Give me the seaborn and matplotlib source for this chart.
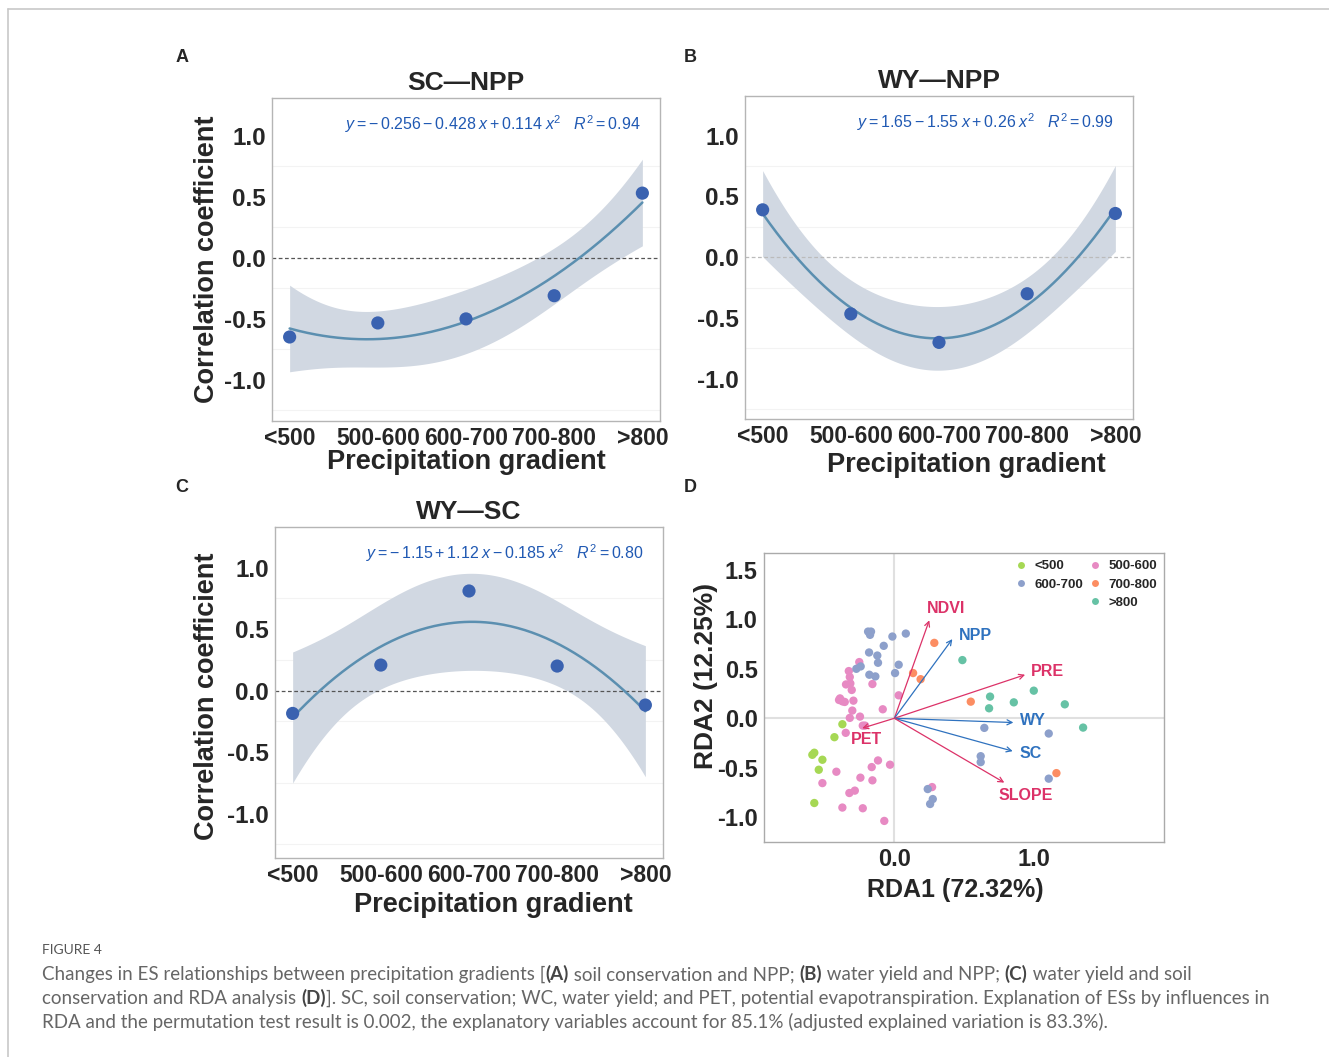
import numpy as np
import pandas as pd
import matplotlib
matplotlib.use('Agg')
import matplotlib.pyplot as plt
import seaborn as sns
from matplotlib.lines import Line2D

# Panels A-C: correlation coefficient per precipitation class
gradients = ['<500', '500-600', '600-700', '700-800', '>800']
sc_npp = [-0.648, -0.533, -0.500, -0.310, 0.530]
wy_npp = [0.390, -0.466, -0.700, -0.300, 0.360]
wy_sc = [-0.185, 0.208, 0.810, 0.200, -0.117]
ci_levels = [0.85, 0.95, 0.85]
titles = ['SC\u2014NPP', 'WY\u2014NPP', 'WY\u2014SC']
equations = [
    r'$y = -\,0.256 - 0.428\;x + 0.114\;x^2$   $R^2 = 0.94$',
    r'$y = 1.65 - 1.55\;x + 0.26\;x^2$   $R^2 = 0.99$',
    r'$y = -\,1.15 + 1.12\;x - 0.185\;x^2$   $R^2 = 0.80$',
]
corr_ticks = [-1.0, -0.5, 0.0, 0.5, 1.0]
corr_ticklabels = ['-1.0', '-0.5', '0.0', '0.5', '1.0']

# Panel D: RDA site scores by precipitation class
lt500_x = [-0.372, -0.429, -0.573, -0.587, -0.515, -0.541, -0.573]
lt500_y = [-0.060, -0.191, -0.348, -0.369, -0.419, -0.520, -0.856]
p500_x = [-0.251, -0.326, -0.319, -0.346, -0.315, -0.305, -0.157, -0.389, -0.372, -0.355,
          -0.396, -0.293, 0.031, -0.301, -0.083, -0.319, -0.246, -0.226, -0.210, -0.348,
          -0.117, -0.031, -0.162, -0.415, -0.243, -0.157, -0.515, -0.322, -0.283, -0.372,
          -0.226, -0.072, 0.270]
p500_y = [0.568, 0.477, 0.417, 0.342, 0.352, 0.286, 0.346, 0.201, 0.171, 0.165,
          0.185, 0.178, 0.232, 0.078, 0.091, 0.004, 0.017, -0.074, -0.074, -0.147,
          -0.426, -0.469, -0.493, -0.540, -0.600, -0.627, -0.655, -0.755, -0.731, -0.902,
          -0.909, -1.037, -0.695]
p600_x = [-0.188, -0.167, -0.174, -0.014, 0.082, -0.076, -0.181, -0.122, -0.117, 0.031,
          0.005, -0.241, -0.272, -0.179, -0.136, 0.644, 1.105, 0.618, 0.618, 1.105,
          0.239, 0.275, 0.256]
p600_y = [0.876, 0.876, 0.843, 0.826, 0.856, 0.732, 0.665, 0.634, 0.561, 0.541,
          0.457, 0.524, 0.500, 0.440, 0.423, -0.097, -0.154, -0.383, -0.443, -0.610,
          -0.715, -0.816, -0.866]
p700_x = [0.286, 0.134, 0.188, 0.547, 1.160]
p700_y = [0.762, 0.457, 0.395, 0.168, -0.554]
gt800_x = [0.487, 0.998, 0.685, 0.855, 0.678, 1.220, 1.351]
gt800_y = [0.588, 0.279, 0.219, 0.161, 0.101, 0.141, -0.094]

# Panel D: explanatory / response variable loadings
var_names = ['NDVI', 'NPP', 'PRE', 'WY', 'SC', 'SLOPE', 'PET']
var_x = [0.250, 0.415, 0.936, 0.852, 0.847, 0.787, -0.230]
var_y = [0.990, 0.800, 0.440, -0.043, -0.332, -0.650, -0.100]
var_kind = ['driver', 'service', 'driver', 'service', 'service', 'driver', 'driver']
label_x = [0.367, 0.580, 1.093, 0.990, 0.976, 0.940, -0.203]
label_y = [1.108, 0.833, 0.473, -0.023, -0.359, -0.778, -0.218]

caption_lines = [
    [('Changes in ES relationships between precipitation gradients [', False), ('(A)', True),
     (' soil conservation and NPP; ', False), ('(B)', True), (' water yield and NPP; ', False),
     ('(C)', True), (' water yield and soil', False)],
    [('conservation and RDA analysis ', False), ('(D)', True),
     ('].  SC, soil conservation; WC, water yield; and PET, potential evapotranspiration. '
      'Explanation of ESs by influences in', False)],
    [('RDA and the permutation test result is 0.002, the explanatory variables account for '
      '85.1% (adjusted explained variation is 83.3%).', False)],
]
caption_lines[1][2] = (caption_lines[1][2][0].replace('].  ', ']. '), False)

sns.set_style('white')
plt.rcParams['font.family'] = ['Liberation Sans', 'DejaVu Sans']
plt.rcParams['mathtext.fontset'] = 'custom'
plt.rcParams['mathtext.rm'] = 'Liberation Sans'
plt.rcParams['mathtext.it'] = 'Liberation Sans:italic'
plt.rcParams['mathtext.bf'] = 'Liberation Sans:bold'


def quad_fit(x, y, level, n=200):
    # quadratic lm fit with a t-based confidence band (5 points -> 2 dof)
    X = np.column_stack([np.ones_like(x), x, x ** 2])
    beta = np.linalg.lstsq(X, y, rcond=None)[0]
    s2 = np.sum((y - X @ beta) ** 2) / (len(x) - 3)
    xs = np.linspace(x.min(), x.max(), n)
    Xs = np.column_stack([np.ones_like(xs), xs, xs ** 2])
    se = np.sqrt(s2 * np.einsum('ij,jk,ik->i', Xs, np.linalg.inv(X.T @ X), Xs))
    t = level * np.sqrt(2 / (1 - level ** 2))
    fit = Xs @ beta
    return xs, fit, fit - t * se, fit + t * se


W, H = 1329, 1057
fig = plt.figure(figsize=(W / 100, H / 100), dpi=100)


def px_axes(l, t, r, b):
    return fig.add_axes([l / W, 1 - b / H, (r - l) / W, (b - t) / H])


ax_a = px_axes(272, 98, 660, 421)
ax_b = px_axes(745, 96, 1133, 419)
ax_c = px_axes(275, 527, 663, 858)
ax_d = px_axes(764, 553, 1164, 842)

bold = dict(fontweight='bold')
x = np.arange(1, 6, dtype=float)
ylims = [(-1.336, 1.309), (-1.33, 1.326), (-1.36, 1.33)]
zero_colors = ['#555555', '#bbbbbb', '#555555']
xlab_pos = [(0.5, -0.127), (0.57, -0.142), (0.564, -0.141)]
ylab_pos = [(-0.1675, 0.5), None, (-0.174, 0.49)]

for i, (ax, vals) in enumerate(zip([ax_a, ax_b, ax_c], [sc_npp, wy_npp, wy_sc])):
    y = np.array(vals)
    xs, fit, lo, hi = quad_fit(x, y, ci_levels[i])
    ax.fill_between(xs, lo, hi, color='#d1d8e2', lw=0, zorder=1)
    ax.axhline(0, color=zero_colors[i], lw=0.9, ls=(0, (3, 2)), zorder=2)
    sns.lineplot(x=xs, y=fit, ax=ax, color='#5b8fb0', lw=1.8, zorder=3)
    sns.scatterplot(x=x, y=y, ax=ax, color='#3a62b0', s=90, edgecolor='none', zorder=4)
    ax.set_xlim(0.8, 5.2)
    ax.set_ylim(*ylims[i])
    ax.set_xticks(x, gradients, fontsize=16.5, **bold)
    ax.set_yticks(corr_ticks, corr_ticklabels, fontsize=17.5, **bold)
    ax.set_yticks([-1.25, -0.75, -0.25, 0.25, 0.75], minor=True)
    ax.grid(which='minor', axis='y', color='#f3f3f3', lw=0.8)
    ax.grid(which='major', visible=False)
    ax.tick_params(which='major', length=2.5, width=0.8, color='#999999', pad=2)
    ax.tick_params(which='minor', length=0)
    for sp in ax.spines.values():
        sp.set_color('#b5b5b5')
        sp.set_linewidth(1.0)
    ax.set_title(titles[i], fontsize=19, pad=6, **bold)
    ax.text(0.95, 0.92, equations[i], transform=ax.transAxes, ha='right', va='center',
            fontsize=11.5, color='#2059b3')
    ax.set_xlabel('Precipitation gradient', fontsize=19.5, va='center', **bold)
    ax.xaxis.set_label_coords(*xlab_pos[i])
    if ylab_pos[i] is not None:
        ax.set_ylabel('Correlation coefficient', fontsize=19.5, va='center', **bold)
        ax.yaxis.set_label_coords(*ylab_pos[i])
    else:
        ax.set_ylabel('')

# Panel D: RDA biplot
group_names = ['<500', '500-600', '600-700', '700-800', '>800']
palette = dict(zip(group_names, ['#a6d854', '#e78ac3', '#8da0cb', '#fc8d62', '#66c2a5']))
df_d = pd.concat([
    pd.DataFrame({'RDA1': gx, 'RDA2': gy, 'group': g})
    for g, gx, gy in zip(group_names,
                         [lt500_x, p500_x, p600_x, p700_x, gt800_x],
                         [lt500_y, p500_y, p600_y, p700_y, gt800_y])
], ignore_index=True)

ax_d.axhline(0, color='#e0e0e0', lw=1.5, zorder=1)
ax_d.axvline(0, color='#e0e0e0', lw=1.5, zorder=1)
sns.scatterplot(data=df_d, x='RDA1', y='RDA2', hue='group', palette=palette, s=36,
                edgecolor='none', legend=False, ax=ax_d, zorder=3)

kind_colors = {'driver': '#dc3268', 'service': '#2f72bf'}
for name, vx, vy, kind, lx, ly in zip(var_names, var_x, var_y, var_kind, label_x, label_y):
    c = kind_colors[kind]
    ax_d.annotate('', xy=(vx, vy), xytext=(0, 0),
                  arrowprops=dict(arrowstyle='->', color=c, lw=0.9, shrinkA=0, shrinkB=0,
                                  mutation_scale=9), zorder=4)
    ax_d.text(lx, ly, name, color=c, ha='center', va='center', fontsize=11.5, zorder=5, **bold)

ax_d.set_xlim(-0.933, 1.93)
ax_d.set_ylim(-1.25, 1.67)
ax_d.set_xticks([0.0, 1.0], ['0.0', '1.0'], fontsize=17, **bold)
ax_d.set_yticks([-1.0, -0.5, 0.0, 0.5, 1.0, 1.5], ['-1.0', '-0.5', '0.0', '0.5', '1.0', '1.5'],
                fontsize=17, **bold)
ax_d.tick_params(length=2.5, width=0.8, color='#999999', pad=2)
ax_d.tick_params(axis='x', pad=1.5)
for sp in ax_d.spines.values():
    sp.set_color('#aaaaaa')
    sp.set_linewidth(1.0)
ax_d.set_xlabel('RDA1 (72.32%)', fontsize=18, va='center', **bold)
ax_d.xaxis.set_label_coords(0.4775, -0.167)
ax_d.set_ylabel('RDA2 (12.25%)', fontsize=19, va='center', **bold)
ax_d.yaxis.set_label_coords(-0.145, 0.574)

order = ['<500', '600-700', None, '500-600', '700-800', '>800']
handles, labels = [], []
for g in order:
    if g is None:
        handles.append(Line2D([], [], ls='none', marker=''))
        labels.append('')
    else:
        handles.append(Line2D([], [], ls='none', marker='o', markersize=5,
                              markerfacecolor=palette[g], markeredgecolor='none'))
        labels.append(g)
ax_d.legend(handles, labels, ncol=2, loc='upper right', bbox_to_anchor=(1.0, 1.0),
            frameon=False, prop=dict(weight='bold', size=9.5), handlelength=1.0,
            handletextpad=0.5, columnspacing=0.4, labelspacing=0.45, borderaxespad=0.15)

# panel letters
for letter, (px, py) in zip('ABCD', [(182, 57), (690, 57), (182, 488), (690, 488)]):
    fig.text(px / W, 1 - py / H, letter, ha='center', va='center', fontsize=13, **bold)

# page frame
fig.add_artist(Line2D([8 / W, 1], [1 - 9 / H, 1 - 9 / H], transform=fig.transFigure,
                      color='#c8c8c8', lw=1.2))
fig.add_artist(Line2D([8 / W, 8 / W], [0, 1 - 9 / H], transform=fig.transFigure,
                      color='#c8c8c8', lw=1.2))

# caption
fig.text(42 / W, 1 - 950 / H, 'FIGURE 4', ha='left', va='center', fontsize=10,
         family=['Lato', 'DejaVu Sans'], color='#555555')
for k, parts in enumerate(caption_lines):
    yb = 1 - (983 + 24 * k) / H
    prev = None
    for txt, is_bold in parts:
        kw = dict(fontsize=13.5, family=['Lato', 'DejaVu Sans'],
                  color='#454545' if is_bold else '#666666',
                  fontweight='bold' if is_bold else 'normal', ha='left', va='bottom')
        if prev is None:
            prev = fig.text(42 / W, yb, txt, **kw)
        else:
            prev = ax_d.annotate(txt, xy=(1, 0), xycoords=prev, annotation_clip=False, **kw)

fig.savefig('out.png', dpi=100)
